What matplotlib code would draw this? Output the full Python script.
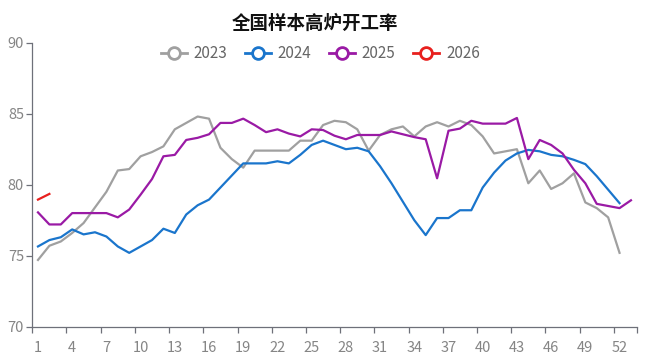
import matplotlib
matplotlib.use("Agg")
import matplotlib.pyplot as plt
from matplotlib.lines import Line2D

plt.rcParams['font.family'] = ['Noto Sans CJK SC', 'DejaVu Sans']

title = "全国样本高炉开工率"
series_names = ["2023", "2024", "2025", "2026"]
colors = ["#a0a0a0", "#1a75cc", "#9a1aa5", "#e8201e"]

v2023 = [74.7, 75.7, 76.0, 76.6, 77.3, 78.4, 79.5, 81.0, 81.1, 82.0, 82.3, 82.7, 83.9, 84.35,
         84.8, 84.65, 82.6, 81.8, 81.2, 82.4, 82.4, 82.4, 82.4, 83.1, 83.1, 84.2, 84.5, 84.4,
         83.9, 82.4, 83.5, 83.9, 84.1, 83.4, 84.1, 84.4, 84.1, 84.5, 84.2, 83.4, 82.2, 82.35,
         82.5, 80.1, 81.0, 79.7, 80.1, 80.8, 78.75, 78.35, 77.7, 75.2]
v2024 = [75.65, 76.1, 76.3, 76.85, 76.5, 76.65, 76.35, 75.65, 75.2, 75.65, 76.1, 76.9, 76.6, 77.9,
         78.55, 78.95, 79.8, 80.65, 81.5, 81.5, 81.5, 81.65, 81.5, 82.1, 82.8, 83.1, 82.8, 82.5,
         82.6, 82.35, 81.3, 80.1, 78.8, 77.5, 76.45, 77.65, 77.65, 78.2, 78.2, 79.8, 80.85, 81.7,
         82.2, 82.45, 82.35, 82.1, 82.0, 81.75, 81.45, 80.6, 79.65, 78.7]
v2025 = [78.05, 77.2, 77.2, 78.0, 78.0, 78.0, 78.0, 77.7, 78.25, 79.3, 80.4, 82.0, 82.1, 83.15,
         83.3, 83.55, 84.35, 84.35, 84.65, 84.2, 83.7, 83.9, 83.6, 83.4, 83.9, 83.85, 83.45, 83.2,
         83.5, 83.5, 83.5, 83.75, 83.55, 83.35, 83.2, 80.45, 83.8, 83.95, 84.5, 84.3, 84.3, 84.3,
         84.7, 81.8, 83.15, 82.8, 82.2, 81.05, 80.1, 78.65, 78.5, 78.35, 78.9]
v2026 = [78.95, 79.35]

all_series = [v2023, v2024, v2025, v2026]

y_ticks = [70, 75, 80, 85, 90]
x_labels = list(range(1, 53, 3))
n_cat = 53

fig = plt.figure(figsize=(6.47, 3.64), dpi=100)
ax = fig.add_axes([0.0499, 0.1025, 0.9341, 0.7802])

for vals, c in zip(all_series, colors):
    ax.plot(range(1, len(vals) + 1), vals, color=c, lw=1.6, solid_joinstyle='round')

ax.set_xlim(0.5, n_cat + 0.5)
ax.set_ylim(70, 90)

axis_col = "#6e7079"
for s in ["top", "right"]:
    ax.spines[s].set_visible(False)
for s in ["left", "bottom"]:
    ax.spines[s].set_color(axis_col)
    ax.spines[s].set_linewidth(0.9)

tick_col = "#858585"
ax.set_yticks(y_ticks)
ax.set_yticklabels([str(t) for t in y_ticks])
ax.tick_params(axis='y', direction='out', length=4, width=0.9, color=axis_col,
               labelcolor=tick_col, labelsize=10.5, pad=2)

major = [b + 0.5 for b in range(0, 52, 3)] + [n_cat + 0.5]
ax.set_xticks(major)
ax.set_xticklabels([])
ax.tick_params(axis='x', which='major', direction='out', length=4, width=0.9, color=axis_col)
ax.set_xticks(x_labels, minor=True)
ax.set_xticklabels([str(x) for x in x_labels], minor=True)
ax.tick_params(axis='x', which='minor', length=0, labelcolor=tick_col, labelsize=10.5, pad=10)

fig.text(0.487, 0.937, title, ha='center', va='center', fontsize=13.3, fontweight='bold',
         color="#111111")

handles = [Line2D([0], [0], color=c, lw=2, marker='o', markersize=8.5,
                  markerfacecolor='white', markeredgecolor=c, markeredgewidth=2)
           for c in colors]
leg = fig.legend(handles, series_names, loc='center', bbox_to_anchor=(0.495, 0.852),
                 ncol=4, frameon=False, fontsize=11, handlelength=1.7, handletextpad=0.45,
                 columnspacing=1.15, labelcolor="#666666")

fig.savefig("out.png", dpi=100)
